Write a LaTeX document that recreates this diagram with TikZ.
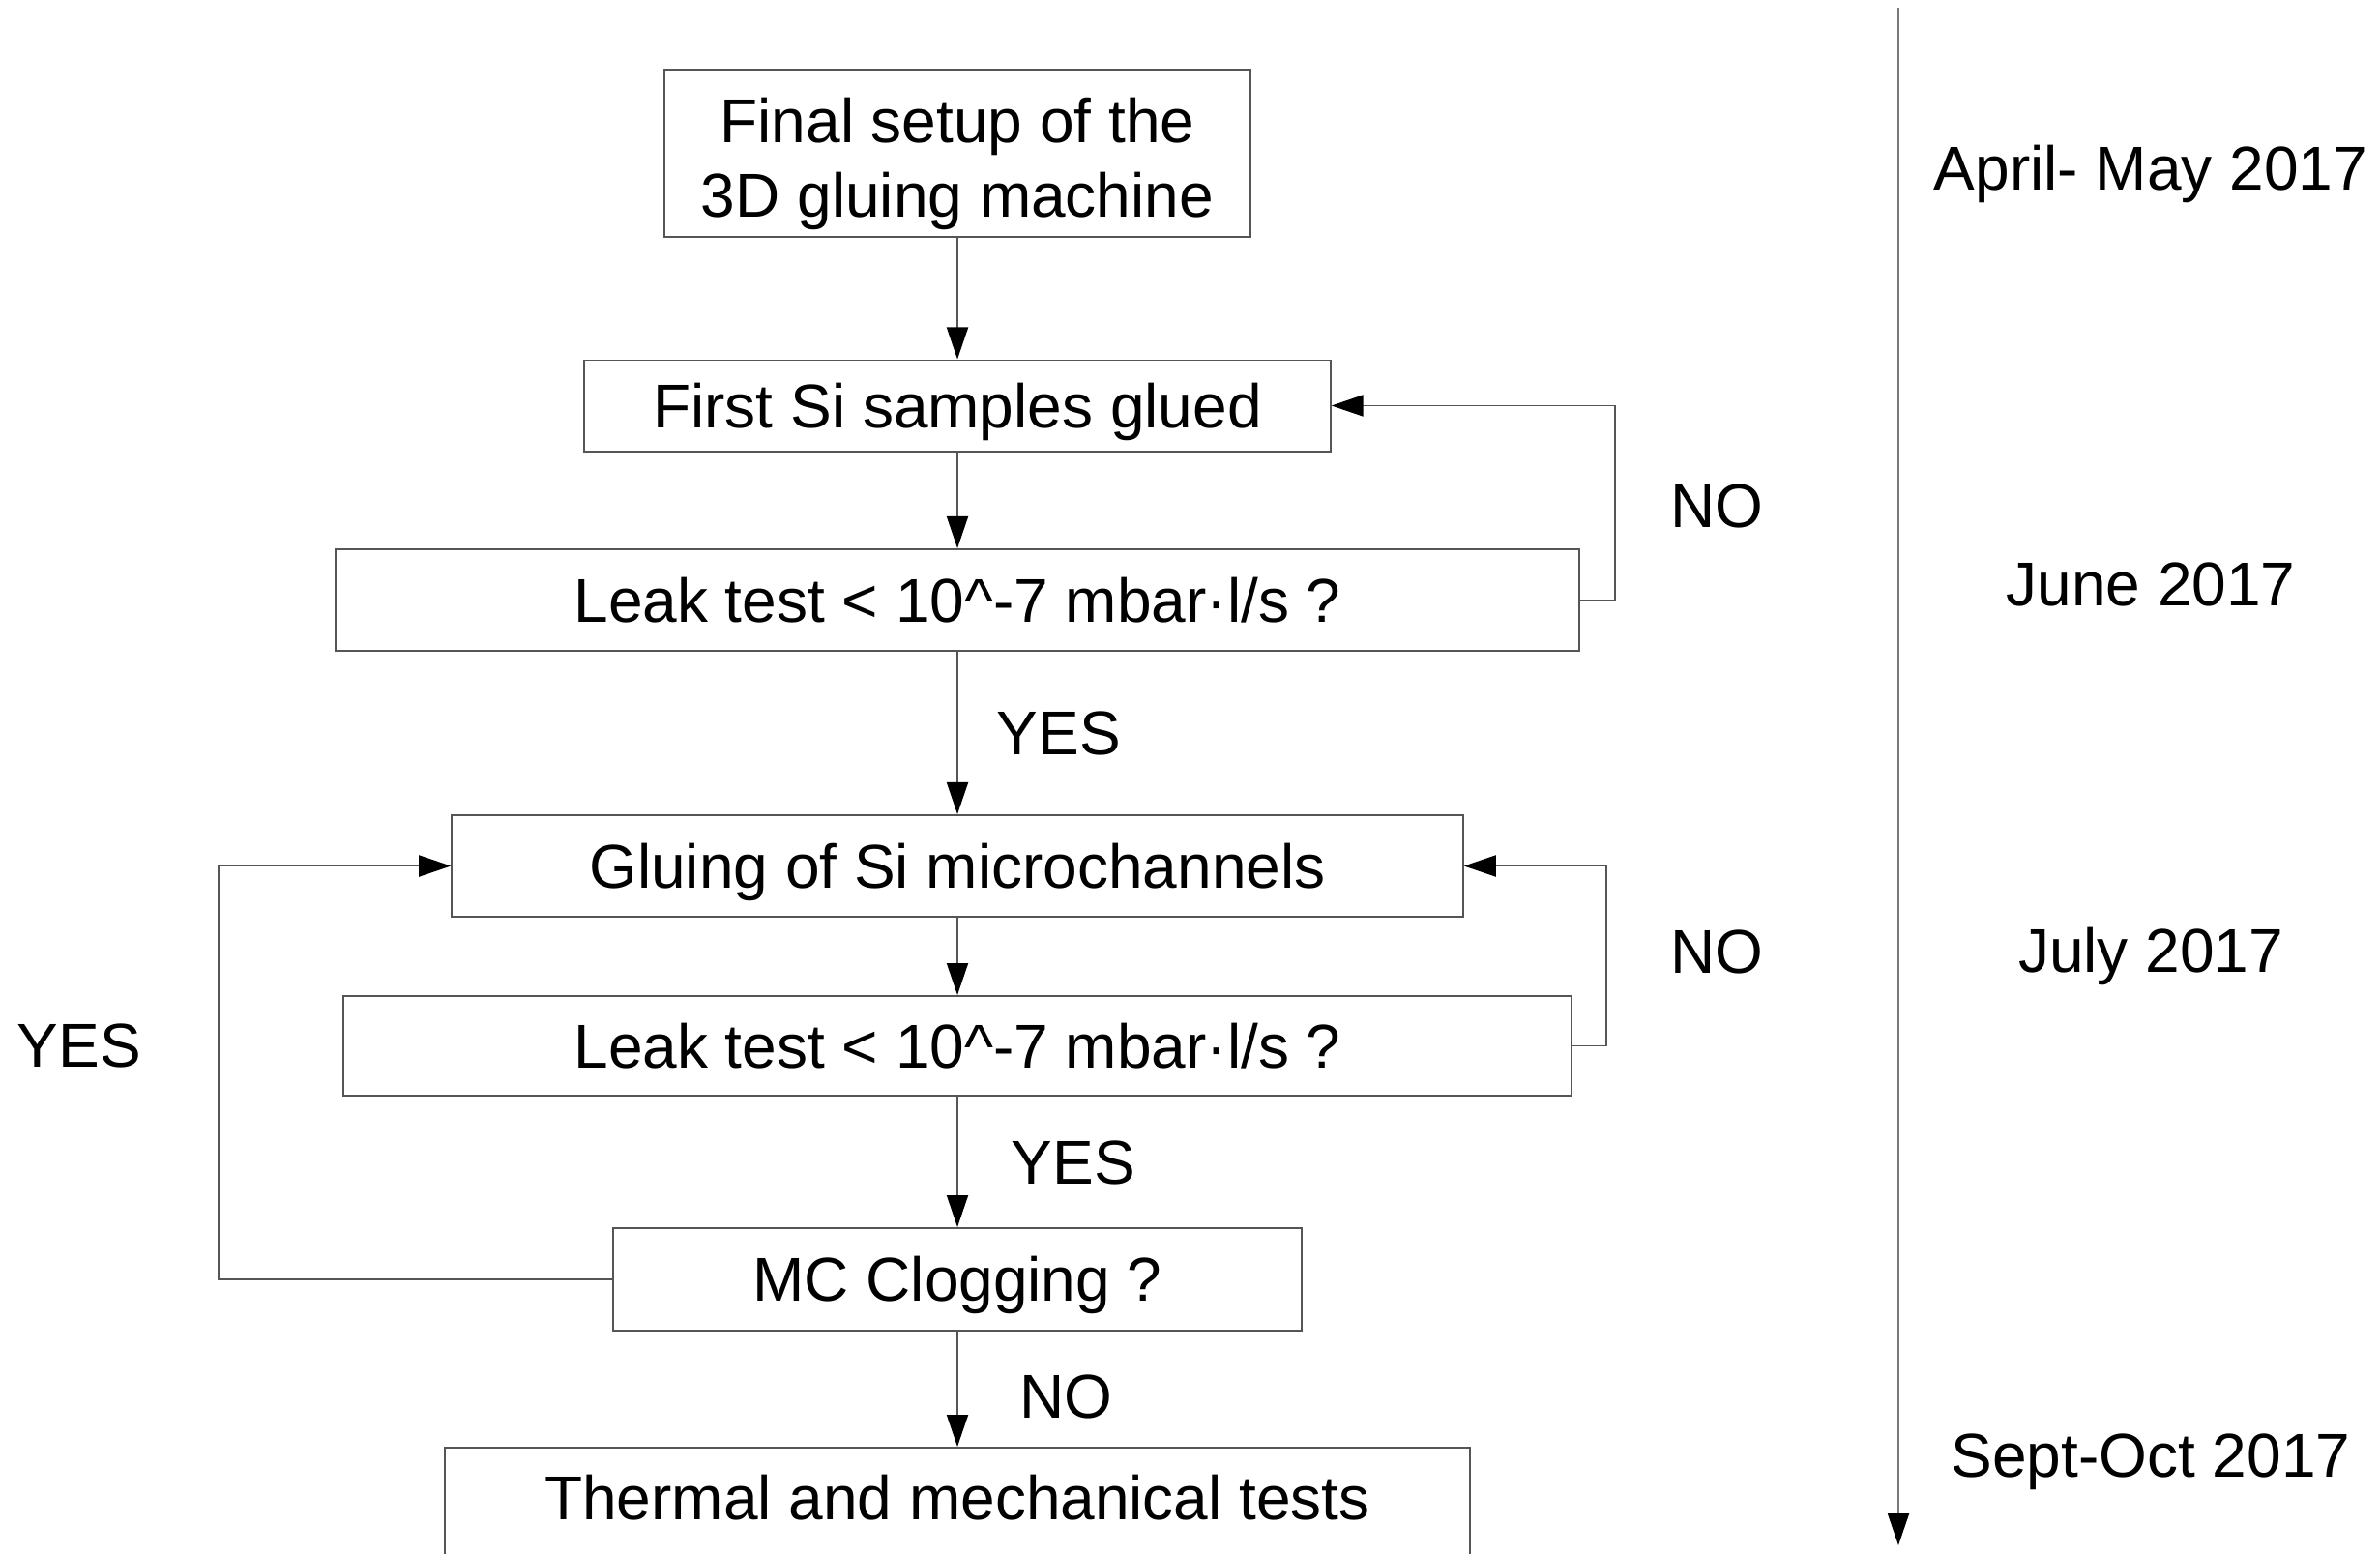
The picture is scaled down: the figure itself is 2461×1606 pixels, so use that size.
\documentclass[tikz,border=0pt]{standalone}
\usepackage{fontspec}
\setmainfont{Liberation Sans}
\usetikzlibrary{arrows.meta}
\definecolor{linegray}{RGB}{85,85,85}
\definecolor{tlgray}{RGB}{120,120,120}
\begin{document}
\begin{tikzpicture}[x=0.01cm,y=-0.01cm,
  every node/.style={font=\fontsize{18.2}{21.9}\selectfont, inner sep=0pt},
  oneline/.style={text height=16pt, text depth=3pt},
  box/.style={draw=linegray, line width=0.55pt, align=center},
  conn/.style={draw=linegray, line width=0.55pt, -{Triangle[length=3.3mm,width=2.2mm,color=black,fill=black]}},
  lbl/.style={anchor=center, oneline}]
\useasboundingbox (0,0) rectangle (2461,1606);
\clip (0,0) rectangle (2461,1606);
\node[box, minimum width=6.05cm, minimum height=1.73cm] (b1) at (990,158.5) {};
\node[align=center] (b1text) at (990,169.5) {Final setup of the\\3D gluing machine};
\node[box, oneline, minimum width=7.71cm, minimum height=0.94cm] (b2) at (990,419.5) {First Si samples glued};
\node[box, oneline, minimum width=12.85cm, minimum height=1.05cm] (b3) at (990,620.5) {Leak test < 10\^{}-7 mbar·l/s ?};
\node[box, oneline, minimum width=10.45cm, minimum height=1.05cm] (b4) at (990,895.5) {Gluing of Si microchannels};
\node[box, oneline, minimum width=12.69cm, minimum height=1.03cm] (b5) at (990,1081.5) {Leak test < 10\^{}-7 mbar·l/s ?};
\node[box, oneline, minimum width=7.11cm, minimum height=1.06cm] (b6) at (990,1323) {MC Clogging ?};
\node[box, text height=16pt, text depth=7.6pt, minimum width=10.59cm, minimum height=1.2cm] (b7) at (990,1557) {Thermal and mechanical tests};

\draw[conn] (b1) -- (b2);
\draw[conn] (b2) -- (b3);
\draw[conn] (b3) -- (b4);
\draw[conn] (b4) -- (b5);
\draw[conn] (b5) -- (b6);
\draw[conn] (b6) -- (b7);

\coordinate (n1a) at (1670,620.5);
\coordinate (n1b) at (1670,419.5);
\draw[conn] (b3.east) -- (n1a) -- (n1b) -- (b2.east);
\coordinate (n2a) at (1661,1081.5);
\coordinate (n2b) at (1661,895.5);
\draw[conn] (b5.east) -- (n2a) -- (n2b) -- (b4.east);
\coordinate (y1a) at (226,1323);
\coordinate (y1b) at (226,895.5);
\draw[conn] (b6.west) -- (y1a) -- (y1b) -- (b4.west);

\node[lbl] (lno1) at (1775,523) {NO};
\node[lbl] (lyes1) at (1095,758) {YES};
\node[lbl] (lno2) at (1775,984) {NO};
\node[lbl] (lyes2) at (82,1081) {YES};
\node[lbl] (lyes3) at (1110,1202) {YES};
\node[lbl] (lno3) at (1102,1444) {NO};

\coordinate (tl0) at (1963,8);
\coordinate (tl1) at (1963,1598);
\draw[draw=tlgray, line width=0.55pt, -{Triangle[length=3.3mm,width=2.2mm,color=black,fill=black]}] (tl0) -- (tl1);

\node[lbl] (t1) at (2224,174) {April- May 2017};
\node[lbl] (t2) at (2224,604) {June 2017};
\node[lbl] (t3) at (2224,983) {July 2017};
\node[lbl] (t4) at (2224,1505) {Sept-Oct 2017};
\end{tikzpicture}
\end{document}
